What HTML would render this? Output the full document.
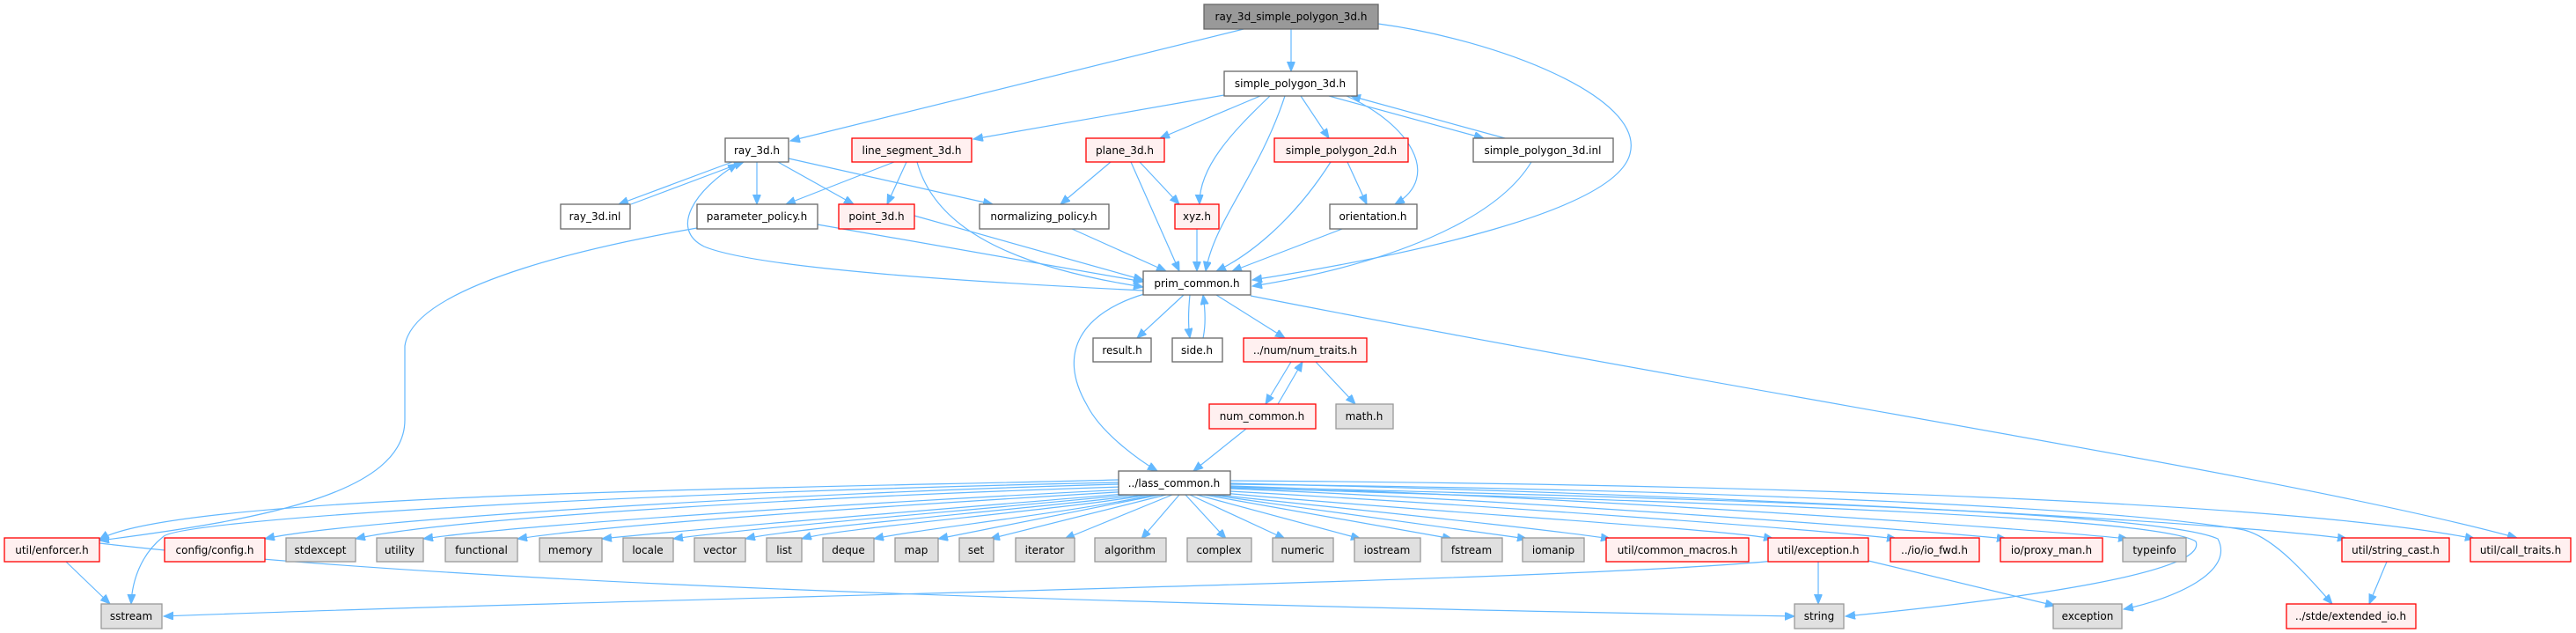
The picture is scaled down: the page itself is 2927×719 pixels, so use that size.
<!DOCTYPE html>
<html><head><meta charset="utf-8"><style>
html,body{margin:0;padding:0;background:#fff;}
svg{display:block;}
text{font-family:"DejaVu Sans","Liberation Sans",sans-serif;font-size:12px;fill:#000;text-anchor:middle;}
.e{fill:none;stroke:#63b8ff;stroke-width:1.2;marker-end:url(#a);}
.w{fill:#fff;stroke:#666;stroke-width:1.3;}
.r{fill:#fff0f0;stroke:#ff0000;stroke-width:1.3;}
.g{fill:#e0e0e0;stroke:#999;stroke-width:1.3;}
.d{fill:#999;stroke:#666;stroke-width:1.3;}
</style></head><body>
<svg width="2927" height="719" viewBox="0 0 2927 719" xmlns="http://www.w3.org/2000/svg">
<defs><marker id="a" markerUnits="userSpaceOnUse" markerWidth="12" markerHeight="10" refX="11" refY="4.5" orient="auto"><path d="M0,0 L11,4.5 L0,9 z" fill="#63b8ff" stroke="#63b8ff"/></marker></defs>
<g>
<path class="e" d="M1467,33 L1467,81"/>
<path class="e" d="M1413,33 L898,160"/>
<path class="e" d="M1566,27 C1700,45 1870,110 1852,175 C1835,240 1600,290 1423,318"/>
<path class="e" d="M1391,108 L1106,158"/>
<path class="e" d="M1432,109 L1318,157"/>
<path class="e" d="M1443,109 C1400,150 1362,190 1363,232"/>
<path class="e" d="M1460,109 C1430,200 1380,250 1370,308"/>
<path class="e" d="M1478,109 L1510,157"/>
<path class="e" d="M1530,109 C1600,140 1640,200 1585,232"/>
<path class="e" d="M1510,109 L1686,157"/>
<path class="e" d="M1710,157 L1535,109"/>
<path class="e" d="M1740,184 C1700,250 1580,300 1423,325"/>
<path class="e" d="M832,184 L703,232"/>
<path class="e" d="M717,232 L845,184"/>
<path class="e" d="M860,184 L860,232"/>
<path class="e" d="M884,184 L970,232"/>
<path class="e" d="M896,180 L1128,232"/>
<path class="e" d="M1299,330 C1100,320 860,305 800,280 C760,260 790,215 838,186"/>
<path class="e" d="M1016,184 L893,232"/>
<path class="e" d="M1030,184 L1008,232"/>
<path class="e" d="M1042,184 C1060,250 1130,300 1299,326"/>
<path class="e" d="M1262,184 L1205,232"/>
<path class="e" d="M1295,184 L1340,232"/>
<path class="e" d="M1285,184 L1340,308"/>
<path class="e" d="M1531,184 L1553,232"/>
<path class="e" d="M1512,184 C1470,250 1420,290 1382,308"/>
<path class="e" d="M929,255 L1299,320"/>
<path class="e" d="M1039,245 L1299,318"/>
<path class="e" d="M1218,260 L1325,308"/>
<path class="e" d="M1360,260 L1360,308"/>
<path class="e" d="M1525,260 L1400,308"/>
<path class="e" d="M792,259 C700,275 470,320 460,393 L460,477 C460,560 300,590 113,614"/>
<path class="e" d="M1345,335 L1292,384"/>
<path class="e" d="M1352,335 C1350,355 1350,370 1352,384"/>
<path class="e" d="M1367,384 C1370,370 1370,355 1367,335"/>
<path class="e" d="M1382,335 L1460,384"/>
<path class="e" d="M1300,334 C1230,355 1200,400 1235,460 C1250,490 1290,520 1315,535"/>
<path class="e" d="M1421,336 C2000,450 2600,540 2860,611"/>
<path class="e" d="M1467,411 L1438,459"/>
<path class="e" d="M1452,459 L1480,411"/>
<path class="e" d="M1495,411 L1540,459"/>
<path class="e" d="M1416,487 L1356,535"/>
<path class="e" d="M1271,545 C900,555 200,560 113,613"/>
<path class="e" d="M1271,548 C700,560 200,590 185,610 C160,630 150,660 149,686"/>
<path class="e" d="M1271,550 C900,560 400,590 301,612"/>
<path class="e" d="M1275,553 C900,565 500,590 404,612"/>
<path class="e" d="M1280,556 C1000,570 600,595 481,612"/>
<path class="e" d="M1285,558 C1000,575 700,595 588,612"/>
<path class="e" d="M1290,560 C1050,580 800,600 684,612"/>
<path class="e" d="M1295,561 C1100,580 850,600 765,612"/>
<path class="e" d="M1300,562 C1150,580 900,600 847,612"/>
<path class="e" d="M1305,562 C1200,580 950,600 911,612"/>
<path class="e" d="M1312,562 C1200,585 1050,600 993,612"/>
<path class="e" d="M1318,562 L1066,612"/>
<path class="e" d="M1325,562 L1125,612"/>
<path class="e" d="M1332,562 L1210,612"/>
<path class="e" d="M1340,562 L1297,612"/>
<path class="e" d="M1347,562 L1393,612"/>
<path class="e" d="M1352,562 L1460,612"/>
<path class="e" d="M1360,562 L1546,612"/>
<path class="e" d="M1368,562 L1650,612"/>
<path class="e" d="M1375,562 C1500,580 1650,600 1735,612"/>
<path class="e" d="M1382,562 C1550,580 1750,600 1830,612"/>
<path class="e" d="M1390,560 C1600,580 1950,600 2015,612"/>
<path class="e" d="M1398,558 C1700,575 2050,600 2155,612"/>
<path class="e" d="M1398,555 C1750,570 2150,600 2280,612"/>
<path class="e" d="M1398,552 C1800,565 2300,600 2418,612"/>
<path class="e" d="M1398,549 C1900,560 2500,590 2667,612"/>
<path class="e" d="M1398,546 C2000,550 2600,570 2812,612"/>
<path class="e" d="M1398,550 C1900,555 2400,575 2550,602 C2580,610 2610,640 2650,686"/>
<path class="e" d="M1398,553 C1900,565 2450,580 2520,612 C2540,650 2470,680 2413,692"/>
<path class="e" d="M1398,554 C1900,570 2450,585 2495,615 C2510,650 2300,680 2097,700"/>
<path class="e" d="M75,638 L125,686"/>
<path class="e" d="M113,617 C400,650 900,680 2039,700"/>
<path class="e" d="M2015,637 C1800,660 700,680 186,700"/>
<path class="e" d="M2066,638 L2066,686"/>
<path class="e" d="M2123,637 L2335,688"/>
<path class="e" d="M2712,638 L2692,686"/>
</g>
<g>
<rect class="d" x="1368" y="5" width="198" height="28"/><text x="1467" y="23">ray_3d_simple_polygon_3d.h</text>
<rect class="w" x="1391" y="81" width="151" height="28"/><text x="1466" y="99">simple_polygon_3d.h</text>
<rect class="w" x="824" y="157" width="72" height="27"/><text x="860" y="175">ray_3d.h</text>
<rect class="r" x="968" y="157" width="136" height="27"/><text x="1036" y="175">line_segment_3d.h</text>
<rect class="r" x="1234" y="157" width="89" height="27"/><text x="1278" y="175">plane_3d.h</text>
<rect class="r" x="1448" y="157" width="152" height="27"/><text x="1524" y="175">simple_polygon_2d.h</text>
<rect class="w" x="1674" y="157" width="159" height="27"/><text x="1753" y="175">simple_polygon_3d.inl</text>
<rect class="w" x="637" y="232" width="79" height="28"/><text x="676" y="250">ray_3d.inl</text>
<rect class="w" x="792" y="232" width="137" height="28"/><text x="860" y="250">parameter_policy.h</text>
<rect class="r" x="953" y="232" width="86" height="28"/><text x="996" y="250">point_3d.h</text>
<rect class="w" x="1113" y="232" width="147" height="28"/><text x="1186" y="250">normalizing_policy.h</text>
<rect class="r" x="1335" y="232" width="50" height="28"/><text x="1360" y="250">xyz.h</text>
<rect class="w" x="1511" y="232" width="99" height="28"/><text x="1560" y="250">orientation.h</text>
<rect class="w" x="1299" y="308" width="122" height="27"/><text x="1360" y="326">prim_common.h</text>
<rect class="w" x="1242" y="384" width="66" height="27"/><text x="1275" y="402">result.h</text>
<rect class="w" x="1332" y="384" width="57" height="27"/><text x="1360" y="402">side.h</text>
<rect class="r" x="1413" y="384" width="140" height="27"/><text x="1483" y="402">../num/num_traits.h</text>
<rect class="r" x="1374" y="459" width="121" height="28"/><text x="1434" y="477">num_common.h</text>
<rect class="g" x="1518" y="459" width="65" height="28"/><text x="1550" y="477">math.h</text>
<rect class="w" x="1271" y="535" width="127" height="27"/><text x="1334" y="553">../lass_common.h</text>
<rect class="r" x="5" y="611" width="108" height="27"/><text x="59" y="629">util/enforcer.h</text>
<rect class="r" x="187" y="611" width="114" height="27"/><text x="244" y="629">config/config.h</text>
<rect class="g" x="325" y="611" width="79" height="27"/><text x="364" y="629">stdexcept</text>
<rect class="g" x="428" y="611" width="53" height="27"/><text x="454" y="629">utility</text>
<rect class="g" x="506" y="611" width="82" height="27"/><text x="547" y="629">functional</text>
<rect class="g" x="613" y="611" width="71" height="27"/><text x="648" y="629">memory</text>
<rect class="g" x="708" y="611" width="57" height="27"/><text x="736" y="629">locale</text>
<rect class="g" x="789" y="611" width="58" height="27"/><text x="818" y="629">vector</text>
<rect class="g" x="871" y="611" width="40" height="27"/><text x="891" y="629">list</text>
<rect class="g" x="935" y="611" width="58" height="27"/><text x="964" y="629">deque</text>
<rect class="g" x="1017" y="611" width="49" height="27"/><text x="1041" y="629">map</text>
<rect class="g" x="1090" y="611" width="39" height="27"/><text x="1109" y="629">set</text>
<rect class="g" x="1154" y="611" width="67" height="27"/><text x="1187" y="629">iterator</text>
<rect class="g" x="1244" y="611" width="81" height="27"/><text x="1284" y="629">algorithm</text>
<rect class="g" x="1349" y="611" width="73" height="27"/><text x="1385" y="629">complex</text>
<rect class="g" x="1446" y="611" width="69" height="27"/><text x="1480" y="629">numeric</text>
<rect class="g" x="1539" y="611" width="75" height="27"/><text x="1576" y="629">iostream</text>
<rect class="g" x="1638" y="611" width="69" height="27"/><text x="1672" y="629">fstream</text>
<rect class="g" x="1730" y="611" width="70" height="27"/><text x="1765" y="629">iomanip</text>
<rect class="r" x="1825" y="611" width="162" height="27"/><text x="1906" y="629">util/common_macros.h</text>
<rect class="r" x="2009" y="611" width="114" height="27"/><text x="2066" y="629">util/exception.h</text>
<rect class="r" x="2148" y="611" width="101" height="27"/><text x="2198" y="629">../io/io_fwd.h</text>
<rect class="r" x="2273" y="611" width="116" height="27"/><text x="2331" y="629">io/proxy_man.h</text>
<rect class="g" x="2412" y="611" width="72" height="27"/><text x="2448" y="629">typeinfo</text>
<rect class="r" x="2661" y="611" width="122" height="27"/><text x="2722" y="629">util/string_cast.h</text>
<rect class="r" x="2807" y="611" width="114" height="27"/><text x="2864" y="629">util/call_traits.h</text>
<rect class="g" x="115" y="686" width="69" height="28"/><text x="149" y="704">sstream</text>
<rect class="g" x="2039" y="686" width="56" height="28"/><text x="2067" y="704">string</text>
<rect class="g" x="2333" y="686" width="78" height="28"/><text x="2372" y="704">exception</text>
<rect class="r" x="2598" y="686" width="147" height="28"/><text x="2671" y="704">../stde/extended_io.h</text>
</g>
</svg>
</body></html>
